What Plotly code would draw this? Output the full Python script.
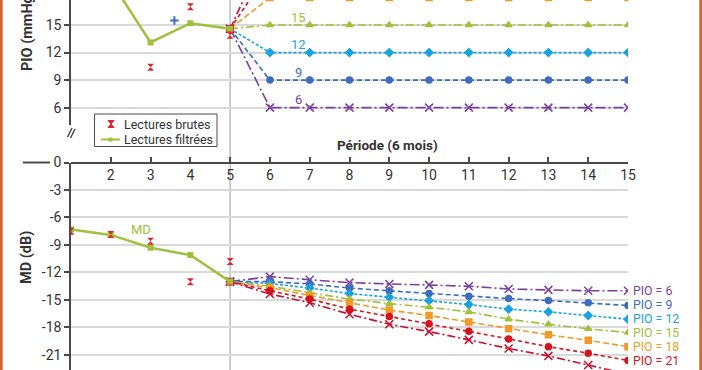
import plotly.graph_objects as go

# ---------------- data ----------------
tick_periods = [2, 3, 4, 5, 6, 7, 8, 9, 10, 11, 12, 13, 14, 15]
filt_x = [1, 2, 3, 4, 5]
pio_filtered = [20.5, 19.8, 13.1, 15.2, 14.6]
md_filtered = [-7.3, -7.9, -9.3, -10.1, -13.0]

raw_pio_x = [3, 4, 5]
pio_raw = [10.4, 17.0, 13.9]
raw_md_x = [1, 2, 3, 4, 5]
md_raw = [-7.5, -7.85, -8.6, -13.0, -10.8]

stray_x = [3.6]
stray_pio = [15.5]

proj_x = [5, 6, 7, 8, 9, 10, 11, 12, 13, 14, 15]
pio_proj_6 = [14.6, 6, 6, 6, 6, 6, 6, 6, 6, 6, 6]
pio_proj_9 = [14.6, 9, 9, 9, 9, 9, 9, 9, 9, 9, 9]
pio_proj_12 = [14.6, 12, 12, 12, 12, 12, 12, 12, 12, 12, 12]
pio_proj_15 = [14.6, 15, 15, 15, 15, 15, 15, 15, 15, 15, 15]
pio_proj_18 = [14.6, 18, 18, 18, 18, 18, 18, 18, 18, 18, 18]
pio_proj_21 = [14.6, 21, 21, 21, 21, 21, 21, 21, 21, 21, 21]
pio_proj_24 = [14.6, 24, 24, 24, 24, 24, 24, 24, 24, 24, 24]

md_proj_6 = [-13.0, -12.45, -12.8, -13.1, -13.25, -13.35, -13.5, -13.8, -13.9, -14.0, -14.0]
md_proj_9 = [-13.0, -13.0, -13.25, -13.7, -14.0, -14.3, -14.6, -14.85, -15.07, -15.3, -15.6]
md_proj_12 = [-13.0, -13.2, -13.7, -14.3, -14.7, -15.07, -15.5, -16.0, -16.3, -16.7, -17.1]
md_proj_15 = [-13.0, -13.5, -14.2, -14.9, -15.4, -15.8, -16.3, -17.1, -17.65, -18.15, -18.55]
md_proj_18 = [-13.0, -13.65, -14.5, -15.3, -16.1, -16.7, -17.4, -18.15, -18.8, -19.4, -20.1]
md_proj_21 = [-13.0, -14.0, -14.9, -16.0, -16.8, -17.6, -18.4, -19.25, -20.1, -20.8, -21.6]
md_proj_24 = [-13.0, -14.35, -15.3, -16.55, -17.65, -18.45, -19.35, -20.3, -21.1, -22.1, -23.1]

pio_ticks = [6, 9, 12, 15, 18]
md_ticks = [0, -3, -6, -9, -12, -15, -18, -21]
md_ticktext = ["0", "-3", "-6", "-9", "-12", "-15", "-18", "-21"]

# ---------------- styles ----------------
FONT = "Roboto"
TXT = "#333333"
GRID = "#D9D9D9"
AXIS = "#4a4a4a"

series = [
    # target, pio list, md list, color, dash, symbol, size, label shown, label nudge (px)
    (6, pio_proj_6, md_proj_6, "#7B3F9E", "10px,3px,2px,3px", "x-thin-open", 8, True, 0),
    (9, pio_proj_9, md_proj_9, "#3E6DBF", "5px,3px", "circle", 6, True, 0),
    (12, pio_proj_12, md_proj_12, "#19A3E0", "3px,2px", "diamond", 6, True, 0.7),
    (15, pio_proj_15, md_proj_15, "#A0C13A", "8px,3px,2px,3px", "triangle-up", 6, True, -0.7),
    (18, pio_proj_18, md_proj_18, "#EE9B28", "6px,3px", "square", 6, True, 0),
    (21, pio_proj_21, md_proj_21, "#D5121E", "4px,3px", "circle", 6, True, -0.5),
    (24, pio_proj_24, md_proj_24, "#C8102E", "8px,3px,2px,3px", "x-thin-open", 8, False, 0),
]

GREEN = "#9DC13B"
RAW_RED = "#E0262E"

fig = go.Figure()

for tgt, pv, mv, col, dash, sym, sz, lab, nud in series:
    mk = dict(symbol=sym, size=sz, color=col, line=dict(color=col, width=1.5))
    fig.add_trace(go.Scatter(x=proj_x, y=pv, mode="lines+markers", xaxis="x", yaxis="y2",
                             line=dict(color=col, width=1.6, dash=dash), marker=mk,
                             showlegend=False, hoverinfo="skip"))
    fig.add_trace(go.Scatter(x=proj_x, y=mv, mode="lines+markers", xaxis="x", yaxis="y",
                             line=dict(color=col, width=1.6, dash=dash), marker=mk,
                             showlegend=False, hoverinfo="skip"))

# filtered readings
fig.add_trace(go.Scatter(x=filt_x, y=pio_filtered, mode="lines+markers", xaxis="x", yaxis="y2",
                         line=dict(color=GREEN, width=2.5), marker=dict(symbol="square", size=6, color=GREEN),
                         name="Lectures filtrées", showlegend=False))
fig.add_trace(go.Scatter(x=filt_x, y=md_filtered, mode="lines+markers", xaxis="x", yaxis="y",
                         line=dict(color=GREEN, width=2.5), marker=dict(symbol="square", size=6, color=GREEN),
                         name="Lectures filtrées", showlegend=False))
# raw readings
fig.add_trace(go.Scatter(x=raw_pio_x, y=pio_raw, mode="markers", xaxis="x", yaxis="y2",
                         marker=dict(symbol="hourglass", size=7, color=RAW_RED),
                         name="Lectures brutes", showlegend=False))
fig.add_trace(go.Scatter(x=raw_md_x, y=md_raw, mode="markers", xaxis="x", yaxis="y",
                         marker=dict(symbol="hourglass", size=7, color=RAW_RED),
                         name="Lectures brutes", showlegend=False))
# stray marker
fig.add_trace(go.Scatter(x=stray_x, y=stray_pio, mode="markers", xaxis="x", yaxis="y2",
                         marker=dict(symbol="cross-thin-open", size=6, color="#3E6DBF",
                                     line=dict(color="#3E6DBF", width=2)),
                         showlegend=False, hoverinfo="skip"))

L, R = 71, 74
W, H = 702, 370
PW = W - L - R


def px(xp):
    return (xp - L) / PW


def py(yp):
    return 1 - yp / H


md_top = py(162.5)
pio_bottom = py(125)

annotations = []
# top chart labels
for tgt, pv, mv, col, dash, sym, sz, lab, nud in series[:4]:
    annotations.append(dict(x=6.72, y=tgt + 0.85, xref="x", yref="y2", text=str(tgt), showarrow=False,
                            xanchor="center", yanchor="middle",
                            font=dict(family=FONT, size=13, color=col)))
# right labels
for tgt, pv, mv, col, dash, sym, sz, lab, nud in series:
    if lab:
        annotations.append(dict(x=15, y=mv[-1], xref="x", yref="y", text=f"PIO = {tgt}", showarrow=False,
                                xanchor="left", yanchor="middle", xshift=4, yshift=nud, borderpad=0,
                                font=dict(family=FONT, size=12.3, color=col)))
annotations += [
    dict(x=2.76, y=-7.35, xref="x", yref="y", text="MD", showarrow=False, xanchor="center", yanchor="middle",
         font=dict(family=FONT, size=13, color=GREEN)),
    dict(x=px(387), y=py(145), xref="paper", yref="paper", text="<b>Période (6 mois)</b>", showarrow=False,
         xanchor="center", yanchor="middle", font=dict(family=FONT, size=13.5, color=TXT)),
    dict(x=px(27), y=py(31), xref="paper", yref="paper", text="<b>PIO (mmHg)</b>", showarrow=False,
         xanchor="center", yanchor="middle", textangle=-90, font=dict(family=FONT, size=14.5, color=TXT)),
    dict(x=px(26), y=py(258), xref="paper", yref="paper", text="<b>MD (dB)</b>", showarrow=False,
         xanchor="center", yanchor="middle", textangle=-90, font=dict(family=FONT, size=14.5, color=TXT)),
    # manual legend texts
    dict(x=px(122), y=py(124), xref="paper", yref="paper", text="Lectures brutes", showarrow=False,
         xanchor="left", yanchor="middle", font=dict(family=FONT, size=12.5, color=TXT)),
    dict(x=px(122), y=py(139.5), xref="paper", yref="paper", text="Lectures filtrées", showarrow=False,
         xanchor="left", yanchor="middle", font=dict(family=FONT, size=12.5, color=TXT)),
]

shapes = [
    # vertical reference at period 5
    dict(type="line", xref="x", yref="paper", x0=5, x1=5, y0=0, y1=1, line=dict(color="#BDBDBD", width=1.5),
         layer="below"),
    # left extension of zero line
    dict(type="line", xref="paper", yref="paper", x0=px(23), x1=px(50), y0=md_top, y1=md_top,
         line=dict(color=AXIS, width=2)),
    # axis break marks
    dict(type="line", xref="paper", yref="paper", x0=px(67.5), x1=px(72), y0=py(137), y1=py(128),
         line=dict(color=AXIS, width=1.5)),
    dict(type="line", xref="paper", yref="paper", x0=px(70.5), x1=px(75), y0=py(138), y1=py(129),
         line=dict(color=AXIS, width=1.5)),
    # orange borders
    dict(type="rect", xref="paper", yref="paper", x0=px(0), x1=px(2.7), y0=0, y1=1,
         fillcolor="#D0692E", line=dict(width=0)),
    dict(type="rect", xref="paper", yref="paper", x0=px(699.3), x1=px(702), y0=0, y1=1,
         fillcolor="#D0692E", line=dict(width=0)),
    # manual legend box
    dict(type="rect", xref="paper", yref="paper", x0=px(94.5), x1=px(217), y0=py(146.5), y1=py(114),
         fillcolor="white", line=dict(color=AXIS, width=1)),
    # legend: raw readings glyph (hourglass)
    dict(type="path", xref="paper", yref="paper",
         path=(f"M {px(108)},{py(120.5)} L {px(114)},{py(120.5)} L {px(108)},{py(127.5)} "
               f"L {px(114)},{py(127.5)} Z"),
         fillcolor=RAW_RED, line=dict(color=RAW_RED, width=1)),
    # legend: filtered line + square
    dict(type="line", xref="paper", yref="paper", x0=px(101), x1=px(120), y0=py(139.5), y1=py(139.5),
         line=dict(color=GREEN, width=2)),
    dict(type="rect", xref="paper", yref="paper", x0=px(108.5), x1=px(112.5), y0=py(141.5), y1=py(137.5),
         fillcolor=GREEN, line=dict(width=0)),
]

fig.update_layout(
    width=W, height=H,
    margin=dict(l=L, r=R, t=0, b=0, autoexpand=False),
    paper_bgcolor="white", plot_bgcolor="white",
    font=dict(family=FONT, size=14, color=TXT),
    xaxis=dict(range=[1, 15], domain=[0, 1], anchor="free", position=md_top, side="bottom",
               tickvals=tick_periods, ticks="inside", ticklen=5, tickwidth=1.5, tickcolor=AXIS,
               showline=True, linecolor=AXIS, linewidth=2, showgrid=False, zeroline=False,
               automargin=False, tickfont=dict(family=FONT, size=14, color=TXT)),
    yaxis=dict(domain=[0, md_top], range=[-22.64, 0], tickvals=md_ticks, ticktext=md_ticktext,
               ticks="outside", ticklen=5, tickwidth=1.5, tickcolor=AXIS,
               showline=True, linecolor=AXIS, linewidth=1.5, showgrid=True, gridcolor=GRID, gridwidth=1.5,
               zeroline=False, anchor="x", automargin=False, tickfont=dict(family=FONT, size=14, color=TXT)),
    yaxis2=dict(domain=[pio_bottom, 1], range=[4.11, 17.73], tickvals=pio_ticks,
                ticks="outside", ticklen=5, tickwidth=1.5, tickcolor=AXIS,
                showline=True, linecolor=AXIS, linewidth=1.5, showgrid=True, gridcolor=GRID, gridwidth=1.5,
                zeroline=False, anchor="x", automargin=False, tickfont=dict(family=FONT, size=14, color=TXT)),
    annotations=annotations,
    shapes=shapes,
    showlegend=False,
)

fig.write_html("out.html", config={"displayModeBar": False},
               post_script="document.body.style.margin='0px';document.body.style.padding='0px';")
